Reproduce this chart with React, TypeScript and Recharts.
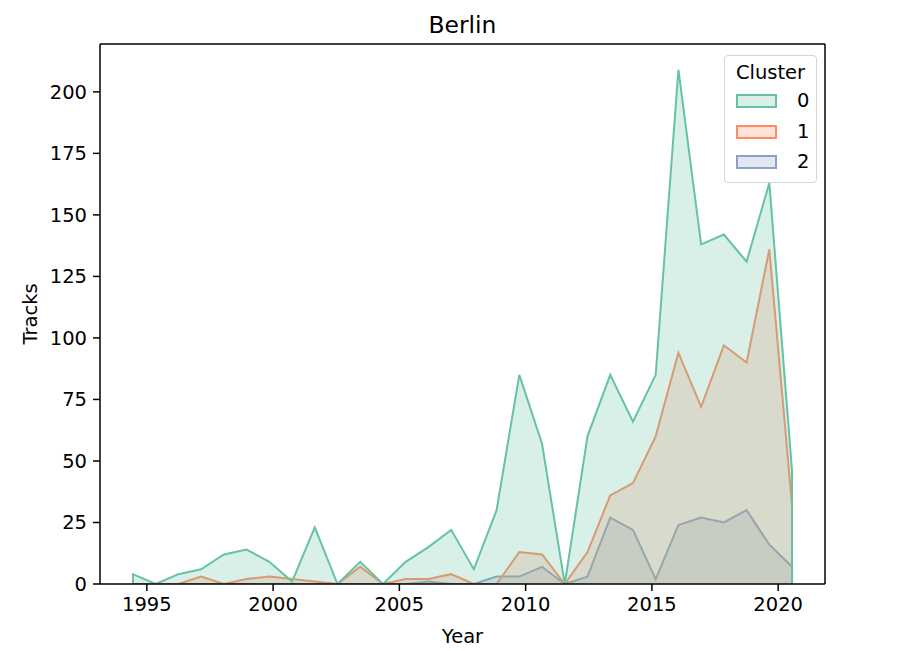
import React from 'react';
import { ComposedChart, Area, XAxis, YAxis, Label, ReferenceLine } from 'recharts';

// histogram bin centres (years), shared by all clusters
const binCenters = [
  1994.45, 1995.35, 1996.25, 1997.15, 1998.05, 1998.95, 1999.85, 2000.75, 2001.65, 2002.55,
  2003.45, 2004.35, 2005.25, 2006.15, 2007.05, 2007.95, 2008.85, 2009.75, 2010.65, 2011.55,
  2012.45, 2013.35, 2014.25, 2015.15, 2016.05, 2016.95, 2017.85, 2018.75, 2019.65, 2020.55,
];

const cluster0 = [4, 0, 4, 6, 12, 14, 9, 1, 23, 0, 9, 0, 9, 15, 22, 6, 30, 85, 57, 0, 60, 85, 66, 85, 209, 138, 142, 131, 163, 46];
const cluster1 = [0, 0, 0, 3, 0, 2, 3, 2, 1, 0, 7, 0, 2, 2, 4, 0, 0, 13, 12, 0, 13, 36, 41, 60, 94, 72, 97, 90, 136, 32];
const cluster2 = [0, 0, 0, 0, 0, 0, 0, 0, 0, 0, 0, 0, 0, 1, 0, 0, 3, 3, 7, 0, 3, 27, 22, 2, 24, 27, 25, 30, 16, 7];

const clusterNames = ['0', '1', '2'];
const clusterColors = ['#66c2a5', '#fc8d62', '#8da0cb'];

const xTicks = [1995, 2000, 2005, 2010, 2015, 2020];
const yTicks = [0, 25, 50, 75, 100, 125, 150, 175, 200];

const X_DOMAIN: [number, number] = [1993.145, 2021.855];
const Y_DOMAIN: [number, number] = [0, 219.45];

const FONT = '"DejaVu Sans", sans-serif';

// fill_between closes the polygon down to zero at both ends
const toPolygon = (values: number[]) => [
  { x: binCenters[0], y: 0 },
  ...values.map((v, i) => ({ x: binCenters[i], y: v })),
  { x: binCenters[binCenters.length - 1], y: 0 },
];

const series = [cluster0, cluster1, cluster2].map((values, i) => ({
  name: clusterNames[i],
  color: clusterColors[i],
  data: toPolygon(values),
}));

const tickStyle = { fontSize: 19.5, fill: '#000', fontFamily: FONT };

const App = () => {
  // first cluster ends up on top, like seaborn's layered hue order
  const drawOrder = [...series].reverse();

  return (
    <div style={{ position: 'absolute', left: 0, top: 0, width: 900, height: 651, background: '#fff', fontFamily: FONT }}>
      <ComposedChart width={900} height={651} margin={{ top: 44, right: 75, bottom: 0, left: 0 }}>
        <XAxis
          type="number"
          dataKey="x"
          domain={X_DOMAIN}
          ticks={xTicks}
          allowDataOverflow
          height={67}
          tickSize={7}
          tickMargin={6}
          tick={tickStyle}
          axisLine={{ stroke: '#000', strokeWidth: 1.5 }}
          tickLine={{ stroke: '#000', strokeWidth: 1.5 }}
        >
          <Label
            content={() => (
              <text x={462.5} y={643} textAnchor="middle" fontSize={19.5} fontFamily={FONT} fill="#000">
                Year
              </text>
            )}
          />
        </XAxis>
        <YAxis
          type="number"
          domain={Y_DOMAIN}
          ticks={yTicks}
          allowDataOverflow
          width={100}
          tickSize={7}
          tickMargin={6}
          tick={tickStyle}
          axisLine={{ stroke: '#000', strokeWidth: 1.5 }}
          tickLine={{ stroke: '#000', strokeWidth: 1.5 }}
        >
          <Label
            content={() => (
              <text
                x={37}
                y={314}
                textAnchor="middle"
                fontSize={19.5}
                fontFamily={FONT}
                fill="#000"
                transform="rotate(-90 37 314)"
              >
                Tracks
              </text>
            )}
          />
        </YAxis>
        {drawOrder.map((s) => (
          <Area
            key={s.name}
            data={s.data}
            dataKey="y"
            name={s.name}
            type="linear"
            stroke={s.color}
            strokeWidth={2}
            fill={s.color}
            fillOpacity={0.25}
            baseValue={0}
            dot={false}
            activeDot={false}
            isAnimationActive={false}
          />
        ))}
        {/* top and right spines */}
        <ReferenceLine y={Y_DOMAIN[1]} stroke="#000" strokeWidth={1.5} ifOverflow="visible" />
        <ReferenceLine x={X_DOMAIN[1]} stroke="#000" strokeWidth={1.5} ifOverflow="visible" />
      </ComposedChart>

      {/* title */}
      <div
        style={{
          position: 'absolute',
          left: 100,
          width: 725,
          top: 10,
          textAlign: 'center',
          fontSize: 23.4,
          lineHeight: '30px',
          color: '#000',
        }}
      >
        Berlin
      </div>

      {/* legend */}
      <div
        style={{
          position: 'absolute',
          left: 724,
          top: 55,
          width: 93,
          height: 128,
          boxSizing: 'border-box',
          border: '1.5px solid #d5d5d5',
          borderRadius: 4,
          background: 'rgba(255,255,255,0.8)',
          fontSize: 19.5,
          color: '#000',
        }}
      >
        <div style={{ textAlign: 'center', marginTop: 4, lineHeight: '26px' }}>Cluster</div>
        {series.map((s) => (
          <div key={s.name} style={{ display: 'flex', alignItems: 'center', height: 30.5, marginLeft: 11 }}>
            <div
              style={{
                width: 41,
                height: 14,
                boxSizing: 'border-box',
                border: `2px solid ${s.color}`,
                background: s.color + '40',
              }}
            />
            <span style={{ marginLeft: 20, lineHeight: '20px' }}>{s.name}</span>
          </div>
        ))}
      </div>
    </div>
  );
};

export default App;
